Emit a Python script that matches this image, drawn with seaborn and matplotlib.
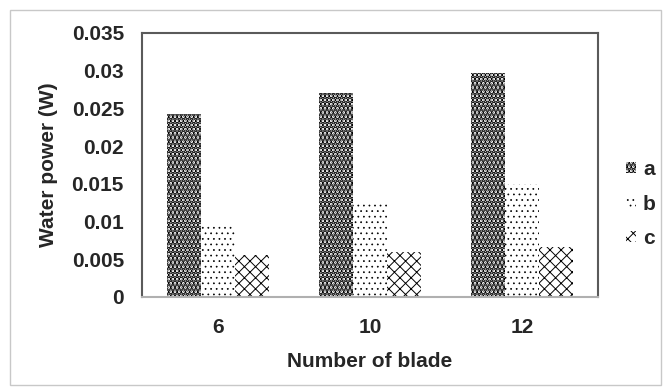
import matplotlib
matplotlib.use("Agg")
import matplotlib.pyplot as plt
import seaborn as sns
import pandas as pd
from matplotlib.patches import Rectangle

blades = ["6", "10", "12"]
series = ["a", "b", "c"]
vals_a = [0.0243, 0.0270, 0.0297]
vals_b = [0.0095, 0.0126, 0.0150]
vals_c = [0.0056, 0.0060, 0.0066]
yticks = [0, 0.005, 0.01, 0.015, 0.02, 0.025, 0.03, 0.035]
ytick_labels = ["0", "0.005", "0.01", "0.015", "0.02", "0.025", "0.03", "0.035"]

rows = []
for s, vals in zip(series, [vals_a, vals_b, vals_c]):
    for b, v in zip(blades, vals):
        rows.append({"blade": b, "series": s, "value": v})
df = pd.DataFrame(rows)

sns.set_style("white")
plt.rcParams["font.family"] = ["Liberation Sans", "DejaVu Sans"]
plt.rcParams["hatch.linewidth"] = 1.0
plt.rcParams["hatch.color"] = "black"

fig = plt.figure(figsize=(6.63, 3.87), dpi=100)
ax = fig.add_axes([142/663, 1-297/387, (598-142)/663, (297-33)/387])

sns.barplot(data=df, x="blade", y="value", hue="series", order=blades,
            hue_order=series, palette=["white"]*3, width=0.67,
            edgecolor="black", linewidth=0, ax=ax)

hatches = ["....", "...", "xxx"]
hatch_lw = [2.6, 0.5, 0.7]


def style_patch(p, h, lw):
    p.set_hatch(h)
    p.set_edgecolor("black")
    p.set_linewidth(0)
    if hasattr(p, "set_hatch_linewidth"):
        p.set_hatch_linewidth(lw)
    else:
        p._hatch_linewidth = lw


for cont, h, lw in zip(ax.containers, hatches, hatch_lw):
    for p in cont:
        style_patch(p, h, lw)

ax.set_ylim(0, 0.035)
ax.set_xlim(-0.5, 2.5)
ax.set_yticks(yticks)
ax.set_yticklabels(ytick_labels)
ax.tick_params(axis="y", length=0, pad=13, labelsize=15)
ax.tick_params(axis="x", length=0, pad=15, labelsize=15)
for lab in ax.get_xticklabels() + ax.get_yticklabels():
    lab.set_fontweight("bold")
ax.set_xlabel("Number of blade", fontsize=15, fontweight="bold", labelpad=11)
ax.set_ylabel("Water power (W)", fontsize=15, fontweight="bold", labelpad=10)

for side in ["left", "top", "right"]:
    ax.spines[side].set_color("#5a5a5a")
    ax.spines[side].set_linewidth(1.5)
ax.spines["bottom"].set_color("#b0b0b0")
ax.spines["bottom"].set_linewidth(1.5)

leg = ax.legend(loc="center left", bbox_to_anchor=(1.062, 0.352), frameon=False,
                borderaxespad=0, borderpad=0,
                handlelength=0.45, handleheight=0.45, handletextpad=0.35,
                labelspacing=0.75, prop={"weight": "bold", "size": 15})
for lh, h, lw in zip(leg.legend_handles, hatches, hatch_lw):
    style_patch(lh, h, lw)

fig.patches.append(Rectangle((10/663, 2/387), 651/663, 375/387, transform=fig.transFigure,
                             fill=False, edgecolor="#c8c8c8", linewidth=1.0))

fig.savefig("out.png", dpi=100)
